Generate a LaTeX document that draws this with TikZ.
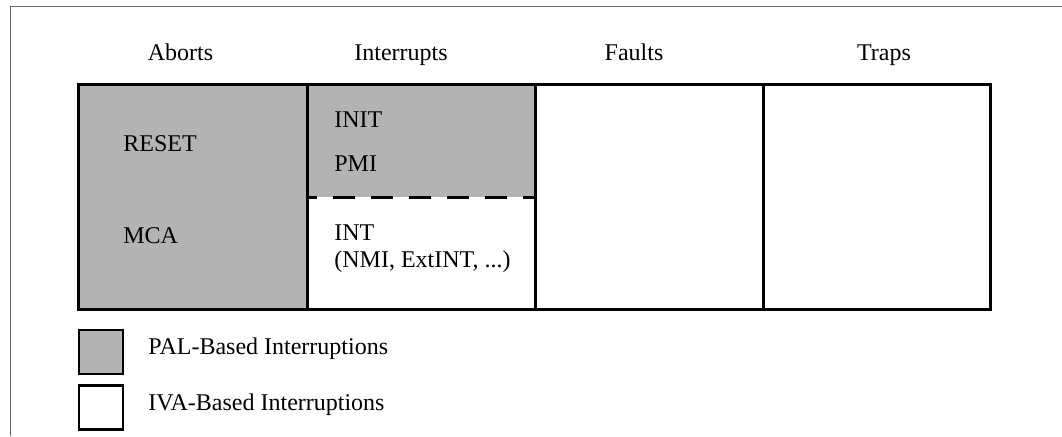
\documentclass[tikz,border=0pt]{standalone}
\usepackage{fontspec}
\setmainfont{Liberation Serif}
\usetikzlibrary{positioning}
\definecolor{palgray}{RGB}{179,179,179}

\begin{document}
\begin{tikzpicture}[
  x=0.5pt, y=-0.5pt,
  framerule/.style={draw=black!60, line width=0.5pt},
  tablerule/.style={draw=black, line width=1.5pt},
  splitrule/.style={black, line width=1.5pt, dash pattern=on 11pt off 8pt, dash phase=6pt},
  head/.style={font=\fontsize{12}{13.5}\selectfont, anchor=base, inner sep=0pt},
  entry/.style={font=\fontsize{12}{13.5}\selectfont, anchor=base west, inner sep=0pt},
  legendkey/.style={draw=black, line width=1.2pt, minimum size=22pt, inner sep=0pt}
]
\useasboundingbox (0,0) rectangle (1062,436);
% open page frame
\draw[framerule] (10,436) -- (10,6) -- (1062,6);

% column headings
\node[head] (aborts) at (180.5,60) {Aborts};
\node[head] (interrupts) at (401,60) {Interrupts};
\node[head] (faults) at (634,60) {Faults};
\node[head] (traps) at (884,60) {Traps};

% PAL-based parts of the table
\fill[palgray] (78.5,84) rectangle (307,309.5);
\fill[palgray] (307,84) rectangle (535,197);
\draw[splitrule] (307,197) -- (535,197);

% table outline and column rules
\draw[tablerule] (78.5,84) rectangle (990.5,309.5);
\foreach \xc in {307,535,763}
  \draw[tablerule] (\xc,84) -- (\xc,309.5);

% entries
\node[entry] (reset) at (123,151) {RESET};
\node[entry] (mca) at (123,243) {MCA};
\node[entry] (init) at (334,127) {INIT};
\node[entry] (pmi) at (334,171) {PMI};
\node[entry] (int) at (334,240) {INT};
\node[entry] (intlist) at (334,267) {(NMI, ExtINT, ...)};

% legend
\node[legendkey, fill=palgray] (palkey) at (101,351.75) {};
\node[legendkey, fill=white] (ivakey) at (101,407.5) {};
\node[entry] (paltext) at (148,354) {PAL-Based Interruptions};
\node[entry] (ivatext) at (148,410) {IVA-Based Interruptions};
\end{tikzpicture}
\end{document}
